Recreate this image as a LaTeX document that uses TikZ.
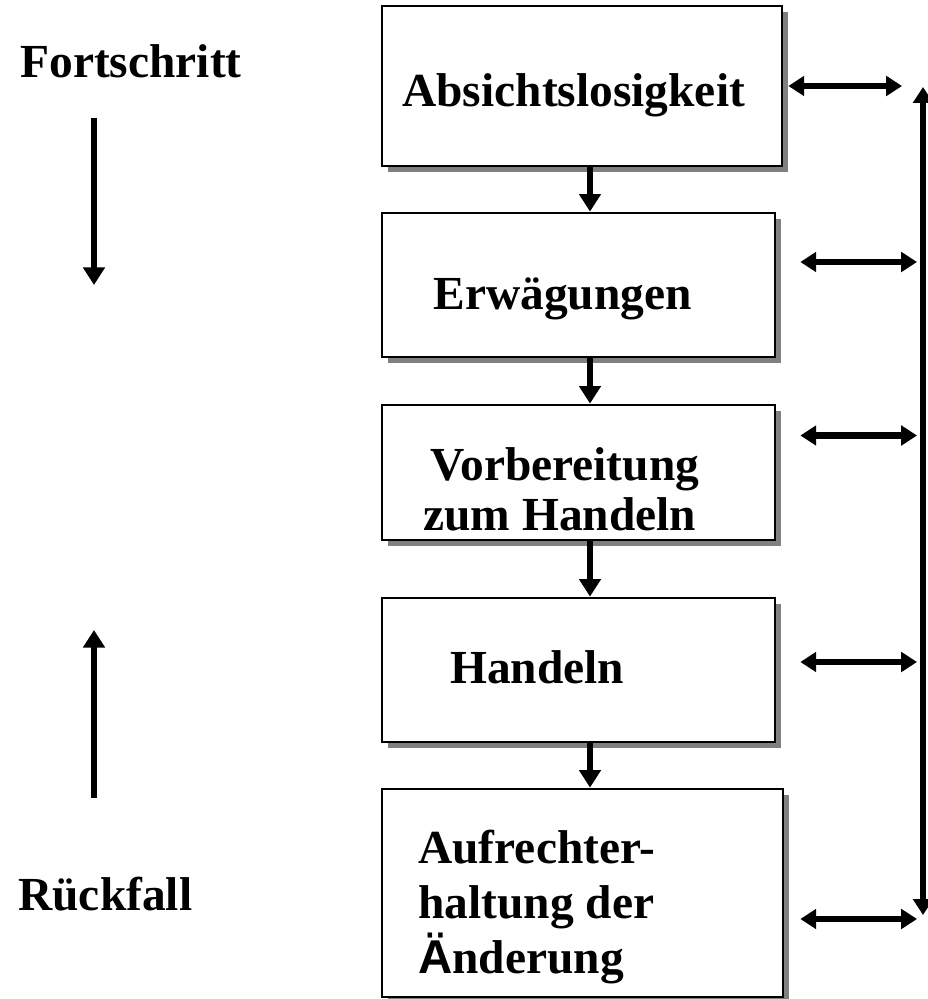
\documentclass[tikz,border=0pt]{standalone}
\usepackage{fontspec}
\setmainfont{Liberation Serif}
\newfontfamily\sansA{Liberation Sans}
\usetikzlibrary{arrows.meta,shadows}
\definecolor{shadowgray}{RGB}{128, 128, 128}

\begin{document}
\begin{tikzpicture}[x = 0.02cm, y = -0.02cm,
  stage/.style = {draw, line width = 1.6pt, fill = white, inner sep = 0pt,
    drop shadow = {fill = shadowgray, opacity = 1, shadow xshift = 1.2mm, shadow yshift = -1.2mm}},
  word/.style = {anchor = base west, inner sep = 0pt, font = \fontsize{27}{31}\selectfont\bfseries},
  flow/.style = {line width = 3.6pt, -{Triangle[length = 10pt, width = 12pt]}},
  twoway/.style = {line width = 3.6pt, {Triangle[length = 9pt, width = 11pt]}-{Triangle[length = 9pt, width = 11pt]}}]
\useasboundingbox (0,0) rectangle (928,999);
% stages
\node[stage, minimum width = 8cm, minimum height = 3.2cm] (absicht) at (582,86) {};
\node[stage, minimum width = 7.86cm, minimum height = 2.88cm] (erwaeg) at (578.5,285) {};
\node[stage, minimum width = 7.86cm, minimum height = 2.7cm] (vorber) at (578.5,472.5) {};
\node[stage, minimum width = 7.86cm, minimum height = 2.88cm] (handeln) at (578.5,670) {};
\node[stage, minimum width = 8.02cm, minimum height = 4.16cm] (aufrecht) at (582.5,893) {};
\node[word] (t1) at (402,107) {Absichtslosigkeit};
\node[word] (t2) at (433,310) {Erwägungen};
\node[word] (t3a) at (430,480) {Vorbereitung};
\node[word] (t3b) at (423,530) {zum Handeln};
\node[word] (t4) at (450,683) {Handeln};
\node[word] (t5a) at (418,863) {Aufrechter-};
\node[word] (t5b) at (418,918) {haltung der};
\node[word] (t5c) at (418,973) {{\sansA Ä}nderung};
% arrows between the stages
\coordinate (axis) at (590,0);
\draw[flow] (absicht.south -| axis) -- (erwaeg.north -| axis);
\draw[flow] (erwaeg.south -| axis) -- (vorber.north -| axis);
\draw[flow] (vorber.south -| axis) -- (handeln.north -| axis);
\draw[flow] (handeln.south -| axis) -- (aufrecht.north -| axis);
% loop on the right
\coordinate (top) at (923,87);
\coordinate (bottom) at (923,915);
\draw[twoway] (bottom) -- (top);
\draw[twoway] ([xshift = 1mm]absicht.east) coordinate (r) -- ([xshift = -4.2mm]r -| top);
\foreach \b/\dx/\dy in {erwaeg/0.48/0.46, vorber/0.48/0.74, handeln/0.48/0.16, aufrecht/0.32/-0.52}
  \draw[twoway] ([xshift = \dx cm, yshift = \dy cm]\b.east) coordinate (r) -- ([xshift = -1.2mm]r -| top);
% left side
\node[word] (fort) at (20,78) {Fortschritt};
\node[word] (rueck) at (18,910) {Rückfall};
\coordinate (f1) at (94,118);
\coordinate (f2) at (94,285);
\draw[flow] (f1) -- (f2);
\coordinate (r1) at (94,798);
\coordinate (r2) at (94,630);
\draw[flow] (r1) -- (r2);
\end{tikzpicture}
\end{document}
